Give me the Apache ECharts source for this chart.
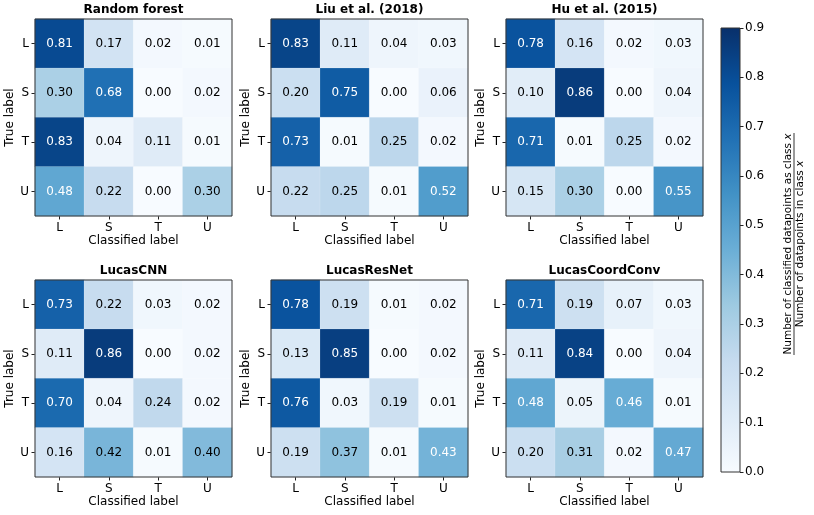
<!DOCTYPE html>
<html>
<head>
<meta charset="utf-8">
<script src="https://cdn.jsdelivr.net/npm/echarts@6/dist/echarts.min.js"></script>
<style>html,body{margin:0;padding:0;background:#fff;}#c{width:814px;height:515px;}</style>
</head>
<body>
<div id="c"></div>
<script>
// ---- data ----
const categories = ['L', 'S', 'T', 'U'];
const titles = ['Random forest', 'Liu et al. (2018)', 'Hu et al. (2015)', 'LucasCNN', 'LucasResNet', 'LucasCoordConv'];
const randomForest = [[0.81,0.17,0.02,0.01],[0.30,0.68,0.00,0.02],[0.83,0.04,0.11,0.01],[0.48,0.22,0.00,0.30]];
const liu2018 = [[0.83,0.11,0.04,0.03],[0.20,0.75,0.00,0.06],[0.73,0.01,0.25,0.02],[0.22,0.25,0.01,0.52]];
const hu2015 = [[0.78,0.16,0.02,0.03],[0.10,0.86,0.00,0.04],[0.71,0.01,0.25,0.02],[0.15,0.30,0.00,0.55]];
const lucasCNN = [[0.73,0.22,0.03,0.02],[0.11,0.86,0.00,0.02],[0.70,0.04,0.24,0.02],[0.16,0.42,0.01,0.40]];
const lucasResNet = [[0.78,0.19,0.01,0.02],[0.13,0.85,0.00,0.02],[0.76,0.03,0.19,0.01],[0.19,0.37,0.01,0.43]];
const lucasCoordConv = [[0.71,0.19,0.07,0.03],[0.11,0.84,0.00,0.04],[0.48,0.05,0.46,0.01],[0.20,0.31,0.02,0.47]];
const colorbarTicks = [0, 0.1, 0.2, 0.3, 0.4, 0.5, 0.6, 0.7, 0.8, 0.9];
const matrices = [randomForest, liu2018, hu2015, lucasCNN, lucasResNet, lucasCoordConv];

// ---- style ----
const FONT = 'DejaVu Sans';
const blues = ['#f7fbff','#deebf7','#c6dbef','#9ecae1','#6baed6','#4292c6','#2171b5','#08519c','#08306b'];
const vmin = 0, vmax = 0.9;
const lefts = [35, 271, 506], tops = [19, 280], size = 197;

const grids = [], xAxes = [], yAxes = [], series = [], titleArr = [];
matrices.forEach((m, k) => {
  const col = k % 3, row = Math.floor(k / 3);
  grids.push({left: lefts[col], top: tops[row], width: size, height: size, show: true,
    borderColor: '#333', borderWidth: 1, backgroundColor: 'transparent', z: 10});
  xAxes.push({type: 'category', gridIndex: k, data: categories, position: 'bottom',
    axisLine: {show: false}, splitLine: {show: false}, splitArea: {show: false},
    axisTick: {show: true, alignWithLabel: true, length: 3.5, lineStyle: {color: '#222', width: 1}},
    axisLabel: {fontFamily: FONT, fontSize: 12, color: '#000', margin: 6},
    name: 'Classified label', nameLocation: 'middle', nameGap: 19,
    nameTextStyle: {fontFamily: FONT, fontSize: 12, color: '#000'}});
  yAxes.push({type: 'category', gridIndex: k, data: categories, inverse: true,
    axisLine: {show: false}, splitLine: {show: false}, splitArea: {show: false},
    axisTick: {show: true, alignWithLabel: true, length: 3.5, lineStyle: {color: '#222', width: 1}},
    axisLabel: {fontFamily: FONT, fontSize: 12, color: '#000', margin: 6},
    name: 'True label', nameLocation: 'middle', nameGap: 16,
    nameTextStyle: {fontFamily: FONT, fontSize: 12, color: '#000'}});
  let mx = 0;
  m.forEach(r => r.forEach(v => { if (v > mx) mx = v; }));
  const thresh = mx / 2;
  const data = [];
  m.forEach((r, i) => r.forEach((v, j) => {
    data.push({value: [j, i, v], label: {color: v > thresh ? '#ffffff' : '#000000'}});
  }));
  series.push({type: 'heatmap', xAxisIndex: k, yAxisIndex: k, data: data,
    itemStyle: {borderColor: 'rgba(255,255,255,0.3)', borderWidth: 0.5},
    label: {show: true, fontFamily: FONT, fontSize: 12, formatter: p => p.value[2].toFixed(2)},
    emphasis: {disabled: true}, silent: true});
  titleArr.push({text: titles[k], left: lefts[col] + size / 2, textAlign: 'center', top: tops[row] - 15, padding: 0,
    textStyle: {fontFamily: FONT, fontSize: 12, fontWeight: 'bold', color: '#000'}});
});

// colorbar
const cbIdx = matrices.length;
grids.push({left: 721, top: 28, width: 19, height: 444, show: true, borderColor: '#333', borderWidth: 1,
  backgroundColor: 'transparent', z: 10});
xAxes.push({type: 'category', gridIndex: cbIdx, data: [''], show: false});
yAxes.push({type: 'value', gridIndex: cbIdx, min: colorbarTicks[0], max: colorbarTicks[colorbarTicks.length - 1],
  interval: 0.1, position: 'right',
  axisLine: {show: false}, splitLine: {show: false},
  axisTick: {show: true, length: 3.5, lineStyle: {color: '#222'}},
  axisLabel: {fontFamily: FONT, fontSize: 12, color: '#000', margin: 5, formatter: v => v.toFixed(1)}});
series.push({type: 'bar', xAxisIndex: cbIdx, yAxisIndex: cbIdx, data: [vmax], barWidth: '100%', silent: true,
  itemStyle: {color: new echarts.graphic.LinearGradient(0, 1, 0, 0,
    blues.map((c, i) => ({offset: i / (blues.length - 1), color: c})))}});

const chart = echarts.init(document.getElementById('c'), null, {renderer: 'canvas'});
chart.setOption({
  backgroundColor: '#ffffff',
  animation: false,
  title: titleArr,
  grid: grids,
  xAxis: xAxes,
  yAxis: yAxes,
  visualMap: {show: false, type: 'continuous', min: vmin, max: vmax, seriesIndex: [0,1,2,3,4,5], dimension: 2,
    inRange: {color: blues}},
  series: series,
  graphic: [
    {type: 'text', x: 788, y: 244, rotation: Math.PI / 2,
      style: {text: '{n|Number of classified datapoints as class }{i|x}', align: 'center', verticalAlign: 'middle',
        rich: {n: {fontFamily: FONT, fontSize: 10.5, fill: '#000'}, i: {fontFamily: FONT, fontSize: 10.5, fontStyle: 'italic', fill: '#000'}}}},
    {type: 'line', shape: {x1: 794, y1: 133, x2: 794, y2: 355}, style: {stroke: '#000', lineWidth: 0.8}},
    {type: 'text', x: 800.5, y: 244, rotation: Math.PI / 2,
      style: {text: '{n|Number of datapoints in class }{i|x}', align: 'center', verticalAlign: 'middle',
        rich: {n: {fontFamily: FONT, fontSize: 10.5, fill: '#000'}, i: {fontFamily: FONT, fontSize: 10.5, fontStyle: 'italic', fill: '#000'}}}}
  ]
});
</script>
</body>
</html>
